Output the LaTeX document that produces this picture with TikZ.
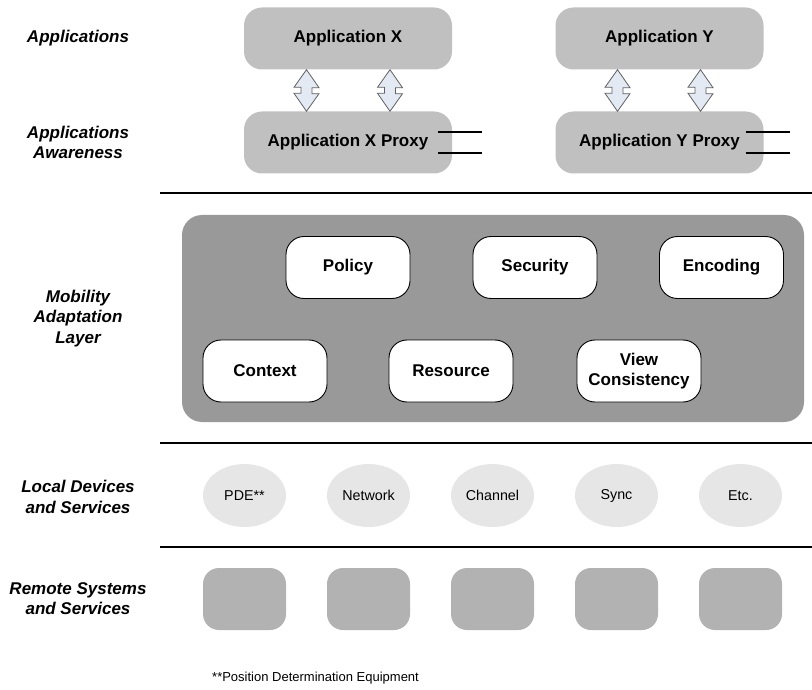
\documentclass[tikz,border=0pt]{standalone}
\usepackage{fontspec}
\setmainfont{Liberation Sans}
\usetikzlibrary{calc,shapes.geometric}
\definecolor{appgray}{HTML}{C0C0C0}
\definecolor{layergray}{HTML}{999999}
\definecolor{ellgray}{HTML}{E6E6E6}
\definecolor{remgray}{HTML}{B2B2B2}
\definecolor{arrfill}{HTML}{E4EAF4}
\definecolor{arrdraw}{HTML}{606060}
\tikzset{
  appbox/.style={fill=appgray, rounded corners=18pt, minimum width=208pt, minimum height=62pt,
    inner sep=0pt, font=\bfseries\fontsize{17}{20}\selectfont},
  layerbox/.style={fill=layergray, rounded corners=20pt, minimum width=622pt, minimum height=207pt, inner sep=0pt},
  modbox/.style={fill=white, draw=black, line width=0.9pt, rounded corners=18pt, minimum width=124pt,
    minimum height=62pt, inner sep=0pt, align=center, font=\bfseries\fontsize{17}{20}\selectfont},
  devell/.style={ellipse, fill=ellgray, minimum width=83pt, minimum height=63pt, inner sep=0pt,
    font=\fontsize{14.3}{17}\selectfont},
  rembox/.style={fill=remgray, rounded corners=16pt, minimum width=83pt, minimum height=62pt, inner sep=0pt},
  layerlabel/.style={align=center, font=\bfseries\itshape\fontsize{17}{20.5}\selectfont},
  sepline/.style={line width=2.7pt, black},
  portline/.style={line width=2.7pt, black},
  dblarr/.style={fill=arrfill, draw=arrdraw, line width=0.8pt, line join=miter},
}
\newcommand{\myDblArrow}[2]{%
  \draw[dblarr] (#1) -- ++(12.5,18) -- ++(-7,0) -- ++(0,6) -- ++(7,0) -- (#2)
    -- ++(-12.5,-18) -- ++(7,0) -- ++(0,-6) -- ++(-7,0) -- cycle;}
\begin{document}
\begin{tikzpicture}[x=1pt, y=-1pt]
\useasboundingbox (0,0) rectangle (812,690);

% left labels
\node[layerlabel] (lapp) at (78,38.5) {Applications};
\node[layerlabel] (laware) at (78,142.5) {Applications\\Awareness};
\node[layerlabel] (lmob) at (78,318.5) {Mobility\\Adaptation\\Layer};
\node[layerlabel] (lloc) at (78,497) {Local Devices\\and Services};
\node[layerlabel] (lrem) at (78,598.5) {Remote Systems\\and Services};

% applications
\node[appbox] (appx) at (348,38.5) {Application X};
\node[appbox] (appy) at (659.5,38.5) {Application Y};
\node[appbox] (proxyx) at (348,142.5) {Application X Proxy};
\node[appbox] (proxyy) at (659.5,142.5) {Application Y Proxy};

% double arrows between application and proxy
\coordinate (ax1t) at (306.5,0 |- appx.south);
\coordinate (ax1b) at (306.5,0 |- proxyx.north);
\coordinate (ax2t) at (390,0 |- appx.south);
\coordinate (ax2b) at (390,0 |- proxyx.north);
\coordinate (ay1t) at (617.5,0 |- appy.south);
\coordinate (ay1b) at (617.5,0 |- proxyy.north);
\coordinate (ay2t) at (700.5,0 |- appy.south);
\coordinate (ay2b) at (700.5,0 |- proxyy.north);
\myDblArrow{ax1t}{ax1b}
\myDblArrow{ax2t}{ax2b}
\myDblArrow{ay1t}{ay1b}
\myDblArrow{ay2t}{ay2b}

% proxy ports
\draw[portline] ($(proxyx.east)+(-14,-10.5)$) -- ++(44,0);
\draw[portline] ($(proxyx.east)+(-14,10.5)$) -- ++(44,0);
\draw[portline] ($(proxyy.east)+(-18,-10.5)$) -- ++(44,0);
\draw[portline] ($(proxyy.east)+(-18,10.5)$) -- ++(44,0);

% separators
\coordinate (s1a) at (160,193);
\coordinate (s1b) at (812,193);
\coordinate (s2a) at (160,443);
\coordinate (s2b) at (812,443);
\coordinate (s3a) at (160,547);
\coordinate (s3b) at (812,547);
\draw[sepline] (s1a) -- (s1b);
\draw[sepline] (s2a) -- (s2b);
\draw[sepline] (s3a) -- (s3b);

% mobility adaptation layer
\node[layerbox] (layer) at (493,318.5) {};
\node[modbox] (policy) at (348,267.5) {Policy};
\node[modbox] (security) at (535,267.5) {Security};
\node[modbox] (encoding) at (721.5,267.5) {Encoding};
\node[modbox] (context) at (265,371) {Context};
\node[modbox] (resource) at (451,371) {Resource};
\node[modbox] (view) at (639,371) {View\\Consistency};

% local devices
\node[devell] (pde) at (244.5,495.5) {PDE**};
\node[devell] (network) at (368.5,495.5) {Network};
\node[devell] (channel) at (492.5,495.5) {Channel};
\node[devell] (sync) at (616.5,495.5) {Sync};
\node[devell] (etc) at (740.5,495.5) {Etc.};

% remote systems
\node[rembox] (r1) at (244.5,599) {};
\node[rembox] (r2) at (368.5,599) {};
\node[rembox] (r3) at (492.5,599) {};
\node[rembox] (r4) at (616.5,599) {};
\node[rembox] (r5) at (740.5,599) {};

% footnote
\node[anchor=west, inner sep=0pt, font=\fontsize{13}{15}\selectfont] (foot) at (212,678) {**Position Determination Equipment};
\end{tikzpicture}
\end{document}
